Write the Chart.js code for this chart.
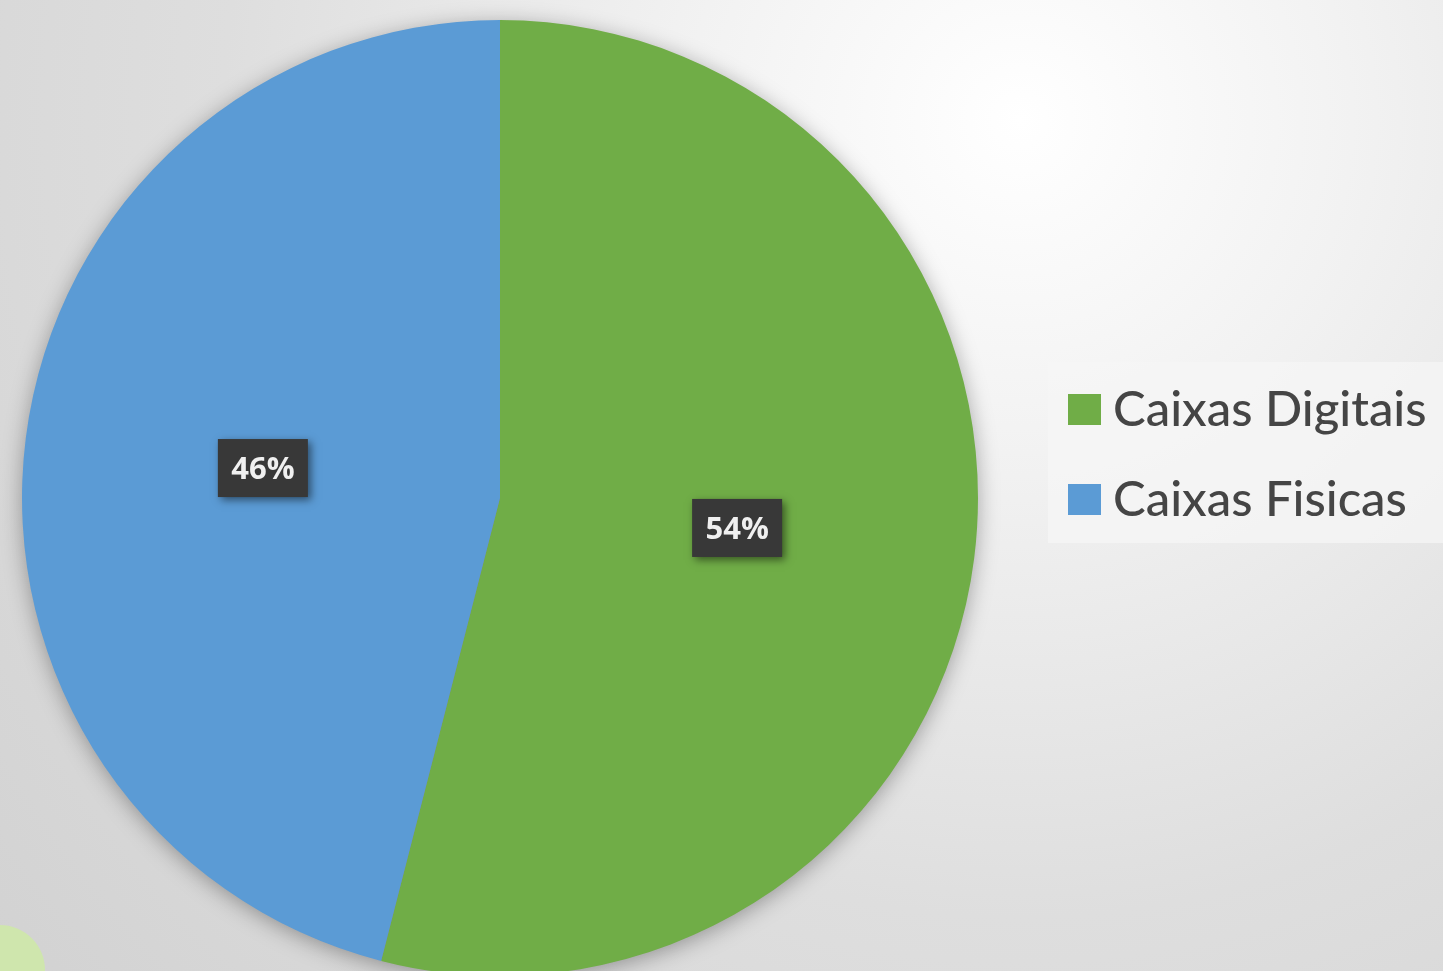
<!DOCTYPE html>
<html><head><meta charset="utf-8">
<script src="https://cdn.jsdelivr.net/npm/chart.js@4"></script>
<style>
html,body{margin:0;padding:0;overflow:hidden;width:1443px;height:971px;}
body{background:radial-gradient(circle at 1020px 120px,#ffffff 0%,#f2f2f2 25%,#dedede 60%,#d2d2d2 100%);position:relative;}
#corner{position:absolute;left:-45px;top:925px;width:90px;height:90px;border-radius:50%;background:#cfe6ad;}
#wrap{position:absolute;left:0;top:0;width:1443px;height:996px;}
</style></head><body>
<div id="corner"></div>
<div id="wrap"><canvas id="c"></canvas></div>
<script>
const categories = ["Caixas Digitais", "Caixas Fisicas"];
const values = [54, 46];
const colors = ["#70AD47", "#5B9BD5"];

const shadowPlugin = {
  id: 'shadow',
  beforeDatasetsDraw(chart){
    const c=chart.ctx; const a=chart.getDatasetMeta(0).data[0];
    c.save();
    c.shadowColor='rgba(0,0,0,0.35)'; c.shadowBlur=22; c.shadowOffsetY=4;
    c.fillStyle='#888';
    c.beginPath(); c.arc(a.x,a.y,a.outerRadius-1,0,Math.PI*2); c.fill();
    c.restore();
  }
};
const labelPlugin = {
  id: 'boxLabels',
  afterDatasetsDraw(chart){
    const c=chart.ctx; const meta=chart.getDatasetMeta(0); const ds=chart.data.datasets[0];
    const total=ds.data.reduce((a,b)=>a+b,0);
    meta.data.forEach((arc,i)=>{
      const p=arc.tooltipPosition();
      const txt=Math.round(ds.data[i]/total*100)+'%';
      const w=90,h=58;
      c.save();
      c.shadowColor='rgba(0,0,0,0.5)'; c.shadowBlur=8; c.shadowOffsetX=3; c.shadowOffsetY=3;
      c.fillStyle='#383838'; c.fillRect(p.x-w/2,p.y-h/2,w,h);
      c.restore();
      c.save();
      c.font='bold 31px "Open Sans", sans-serif';
      c.fillStyle='#f0f0f0'; c.textAlign='center'; c.textBaseline='middle';
      c.fillText(txt,p.x,p.y+2);
      c.restore();
    });
  }
};
const legendPlugin = {
  id: 'customLegend',
  afterDraw(chart){
    const c=chart.ctx;
    c.save();
    c.fillStyle='rgba(245,245,245,0.75)';
    c.fillRect(1048,362,400,181);
    c.font='500 49px Lato, sans-serif';
    c.textBaseline='middle';
    chart.data.labels.forEach((lab,i)=>{
      const y=410+i*90;
      c.fillStyle=chart.data.datasets[0].backgroundColor[i];
      c.fillRect(1068,y-16,33,31);
      c.fillStyle='#454545';
      c.fillText(lab,1113,y);
    });
    c.restore();
  }
};

new Chart(document.getElementById('c'),{
  type:'pie',
  data:{labels:categories,datasets:[{data:values,backgroundColor:colors,borderWidth:0}]},
  options:{
    responsive:true,maintainAspectRatio:false,animation:false,
    layout:{padding:{left:22,right:465,top:20,bottom:20}},
    plugins:{legend:{display:false},tooltip:{enabled:false}}
  },
  plugins:[shadowPlugin,labelPlugin,legendPlugin]
});
</script>
</body></html>
